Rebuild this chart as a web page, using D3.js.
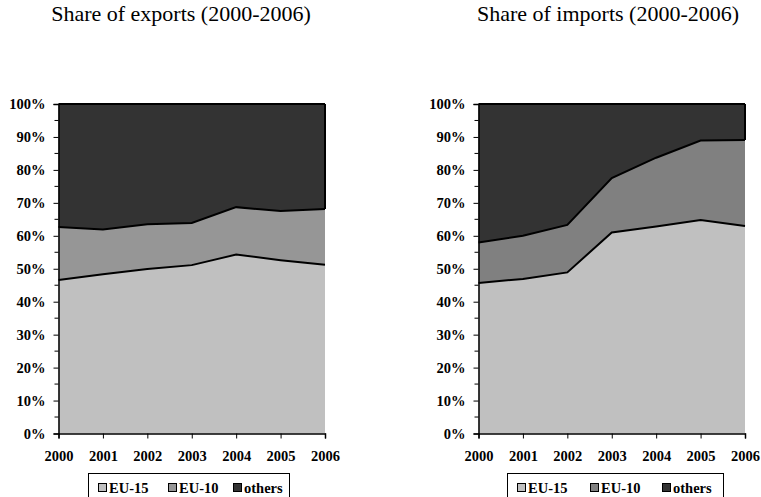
<!DOCTYPE html>
<html><head><meta charset="utf-8">
<script src="https://cdn.jsdelivr.net/npm/d3@7"></script>
<style>body{margin:0;background:#fff}svg{display:block}</style>
</head><body>
<svg id="c" width="761" height="497"></svg>
<script>
const years = ["2000","2001","2002","2003","2004","2005","2006"];
const seriesNames = ["EU-15","EU-10","others"];
const exportsEU15  = [46.6, 48.3, 49.9, 51.1, 54.3, 52.6, 51.2];
const exportsEU10  = [16.1, 13.6, 13.6, 12.8, 14.4, 14.9, 16.9];
const exportsOther = [37.3, 38.1, 36.5, 36.1, 31.3, 32.5, 31.9];
const importsEU15  = [45.7, 46.9, 48.9, 61.0, 62.8, 64.8, 63.0];
const importsEU10  = [12.3, 13.1, 14.4, 16.5, 20.9, 24.1, 26.1];
const importsOther = [42.0, 40.0, 36.7, 22.5, 16.3, 11.1, 10.9];
const yTicks = [0,10,20,30,40,50,60,70,80,90,100];
const titles = ["Share of exports (2000-2006)","Share of imports (2000-2006)"];

const svg = d3.select("#c");
const font = "'Liberation Serif','Times New Roman',serif";
const fs = "14.5px";

const charts = [
  {title: titles[0], cols: [exportsEU15, exportsEU10, exportsOther], colors:["#c0c0c0","#969696","#333333"], left:58.5, right:325, titleX:181, legendX:88, legendW:201, offs:[10,80,145]},
  {title: titles[1], cols: [importsEU15, importsEU10, importsOther], colors:["#c0c0c0","#808080","#333333"], left:478.5, right:745, titleX:608, legendX:507, legendW:216, offs:[10,83,155]}
];

charts.forEach(c => {
  const data = years.map((y,i) => {
    const o = {year:y};
    seriesNames.forEach((s,k) => o[s] = c.cols[k][i]);
    return o;
  });
  const stacked = d3.stack().keys(seriesNames).offset(d3.stackOffsetExpand)(data);
  const x = d3.scalePoint().domain(years).range([c.left, c.right]);
  const y = d3.scaleLinear().domain([0,1]).range([433.5, 104]);
  const g = svg.append("g");

  const area = d3.area().x(d => x(d.data.year)).y0(d => y(d[0])).y1(d => y(d[1]));
  const line = d3.line().x(d => x(d.data.year)).y(d => y(d[1]));
  g.selectAll("path.a").data(stacked).join("path")
    .attr("d", area).attr("fill", (d,i) => c.colors[i]);
  g.selectAll("path.l").data(stacked).join("path")
    .attr("d", line).attr("fill","none").attr("stroke","#000").attr("stroke-width",2);
  const top = stacked[2];
  g.append("line").attr("x1", c.right).attr("x2", c.right)
    .attr("y1", y(1)).attr("y2", y(top[top.length-1][0]))
    .attr("stroke","#000").attr("stroke-width",2);

  // y axis
  const ya = g.append("g").attr("transform", `translate(${c.left},0)`)
    .call(d3.axisLeft(y).tickValues(yTicks.map(v=>v/100)).tickFormat((d,i)=>yTicks[i]+"%").tickSize(5).tickPadding(8));
  ya.select(".domain").attr("stroke","#000").attr("stroke-width",1.5);
  ya.selectAll("text").attr("font-family",font).attr("font-weight","bold").style("font-size",fs).attr("fill","#000");
  g.append("g").selectAll("line").data(d3.range(5,100,10)).join("line")
    .attr("x1", c.left-4).attr("x2", c.left).attr("y1", d=>y(d/100)).attr("y2", d=>y(d/100))
    .attr("stroke","#000");

  // x axis
  const xa = g.append("g").attr("transform", `translate(0,433.5)`)
    .call(d3.axisBottom(x).tickSize(5).tickPadding(12));
  xa.select(".domain").attr("stroke","#000").attr("stroke-width",1.5);
  xa.selectAll("text").attr("font-family",font).attr("font-weight","bold").style("font-size",fs).attr("fill","#000");

  // title
  svg.append("text").attr("x", c.titleX).attr("y", 21).attr("text-anchor","middle")
    .attr("font-family",font).style("font-size","22px").text(c.title);

  // legend
  const lg = svg.append("g").attr("transform", `translate(${c.legendX},473)`);
  lg.append("rect").attr("x",0.5).attr("y",0.5).attr("width",c.legendW).attr("height",30)
    .attr("fill","#fff").attr("stroke","#000").attr("stroke-width",1);
  seriesNames.forEach((s,i) => {
    const it = lg.append("g").attr("transform", `translate(${c.offs[i]},0)`);
    it.append("rect").attr("x",0.5).attr("y",10.5).attr("width",8).attr("height",8)
      .attr("fill", c.colors[i]).attr("stroke","#000").attr("stroke-width",1);
    it.append("text").attr("x",11).attr("y",20).attr("font-family",font).attr("font-weight","bold")
      .style("font-size",fs).text(s);
  });
});
</script>
</body></html>
